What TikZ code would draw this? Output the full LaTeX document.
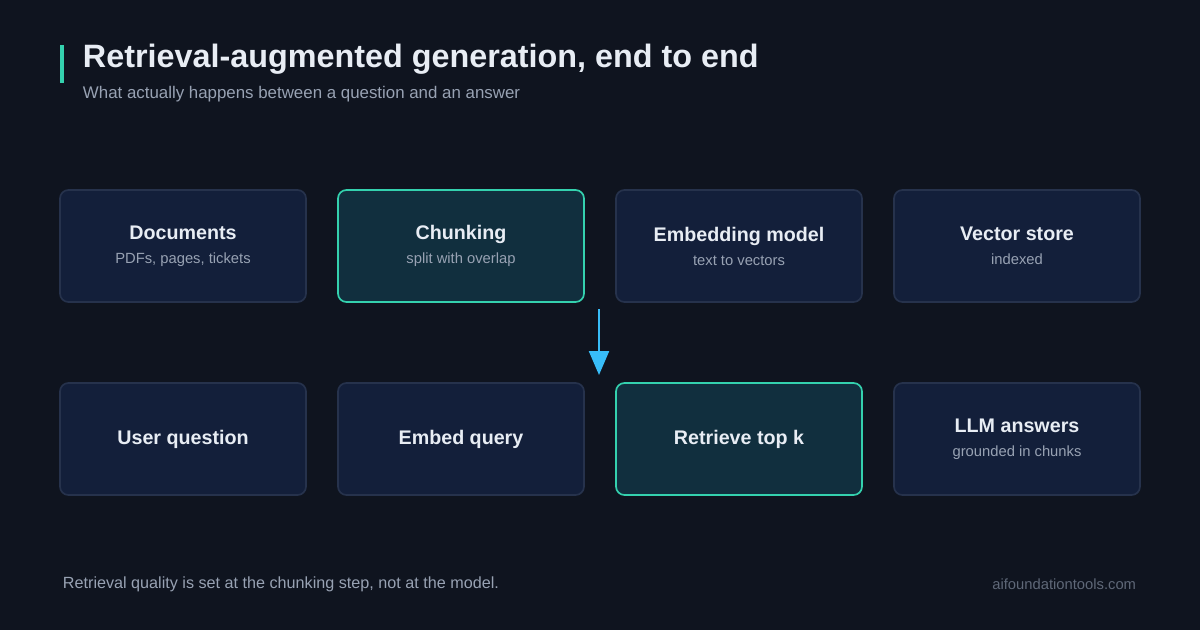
\documentclass[tikz,border=0pt]{standalone}
\usepackage{fontspec}
\setmainfont{Liberation Sans}
\usetikzlibrary{arrows.meta,positioning}
\definecolor{bgdark}{HTML}{0F141F}
\definecolor{boxfill}{HTML}{131F3A}
\definecolor{boxline}{HTML}{26324C}
\definecolor{hotfill}{HTML}{112F3E}
\definecolor{hotline}{HTML}{34D1AE}
\definecolor{arrowblue}{HTML}{38BDF8}
\definecolor{titlewhite}{HTML}{E8EDF4}
\definecolor{subgrey}{HTML}{98A2B3}
\definecolor{footgrey}{HTML}{5F6878}
\tikzset{
  stage/.style={draw=boxline, fill=boxfill, line width=1.2pt, rounded corners=6pt,
    minimum width=246*0.025cm, minimum height=112*0.025cm, align=center, text=titlewhite},
  hot/.style={stage, draw=hotline, fill=hotfill},
  flow/.style={draw=none, -{Triangle[length=24*0.025cm, width=20*0.025cm]}, arrowblue, shorten >=8*0.025cm},
  drop/.style={draw=arrowblue, line width=1.6pt, -{Triangle[length=24*0.025cm, width=20*0.025cm]}}
}
\newcommand{\stagetext}[2]{{\fontsize{14}{16}\bfseries #1}\\[5pt]{\fontsize{10.5}{12}\selectfont\color{subgrey}#2}}
\begin{document}
\begin{tikzpicture}[x=0.025cm, y=-0.025cm]
  \fill[bgdark] (0,0) rectangle (1200,630);
  \useasboundingbox (0,0) rectangle (1200,630);
  % heading
  \fill[hotline] (60,45) rectangle (64,83);
  \node[anchor=west, text=titlewhite, font=\fontsize{23}{26}\bfseries\selectfont] (title) at (78,59) {Retrieval-augmented generation, end to end};
  \node[anchor=west, text=subgrey, font=\fontsize{12}{14}\selectfont] (subtitle) at (78,94) {What actually happens between a question and an answer};
  % top row
  \node[stage] (docs) at (183,246) {\stagetext{Documents}{PDFs, pages, tickets}};
  \node[hot] (chunk) at (461,246) {\stagetext{Chunking}{split with overlap}};
  \node[stage] (embed) at (739,246) {\stagetext{Embedding model}{text to vectors}};
  \node[stage] (store) at (1017,246) {\stagetext{Vector store}{indexed}};
  % bottom row
  \node[stage, font=\fontsize{14}{16}\bfseries\selectfont] (question) at (183,439) {User question};
  \node[stage, font=\fontsize{14}{16}\bfseries\selectfont] (query) at (461,439) {Embed query};
  \node[hot, font=\fontsize{14}{16}\bfseries\selectfont] (topk) at (739,439) {Retrieve top k};
  \node[stage] (llm) at (1017,439) {\stagetext{LLM answers}{grounded in chunks}};
  % arrows
  \path[flow] (docs.east) -- (chunk.west);
  \path[flow] (chunk.east) -- (embed.west);
  \path[flow] (embed.east) -- (store.west);
  \path[flow] (question.east) -- (query.west);
  \path[flow] (query.east) -- (topk.west);
  \path[flow] (topk.east) -- (llm.west);
  \coordinate (dropstart) at (599,309);
  \coordinate (dropend) at (599,375);
  \draw[drop] (dropstart) -- (dropend);
  % footer
  \node[anchor=west, text=subgrey, font=\fontsize{11.5}{13}\selectfont] (note) at (58,584) {Retrieval quality is set at the chunking step, not at the model.};
  \node[anchor=east, text=footgrey, font=\fontsize{10.5}{12}\selectfont] (site) at (1141,584) {aifoundationtools.com};
\end{tikzpicture}
\end{document}
